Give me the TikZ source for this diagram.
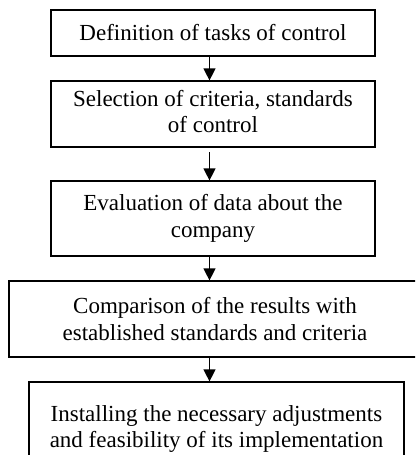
\documentclass[tikz,border=0pt]{standalone}
\usepackage{fontspec}
\setmainfont{Liberation Serif}
\usetikzlibrary{arrows.meta}
\begin{document}
\begin{tikzpicture}[x=1pt,y=-1pt,
  stepbox/.style={draw=black, line width=1.2pt, inner sep=0pt, align=center,
    font=\fontsize{23}{26.7}\selectfont},
  arr/.style={line width=1.2pt, -{Triangle[length=12pt,width=12pt]}}]
\useasboundingbox (0,0) rectangle (415,455);
\clip (0,0) rectangle (415,455);
\node[stepbox, minimum width=324pt, minimum height=46pt] (b1) at (213,33) {Definition of tasks of control};
\node[stepbox, minimum width=324pt, minimum height=66pt, text depth=5pt] (b2) at (213,114) {Selection of criteria, standards\\of control};
\node[stepbox, minimum width=324pt, minimum height=75pt] (b3) at (213,218.5) {Evaluation of data about the\\company};
\node[stepbox, minimum width=412pt, minimum height=76pt] (b4) at (215,319) {Comparison of the results with\\established standards and criteria};
\node[stepbox, minimum width=375pt, minimum height=94pt] (b5) at (216.5,429) {Installing the necessary adjustments\\and feasibility of its implementation};
\coordinate (ax) at (209.5,0);
\draw[arr] (b1.south -| ax) -- (b2.north -| ax);
\draw[arr, shorten <=4.5pt] (b2.south -| ax) -- (b3.north -| ax);
\draw[arr] (b3.south -| ax) -- (b4.north -| ax);
\draw[arr] (b4.south -| ax) -- (b5.north -| ax);
\end{tikzpicture}
\end{document}
